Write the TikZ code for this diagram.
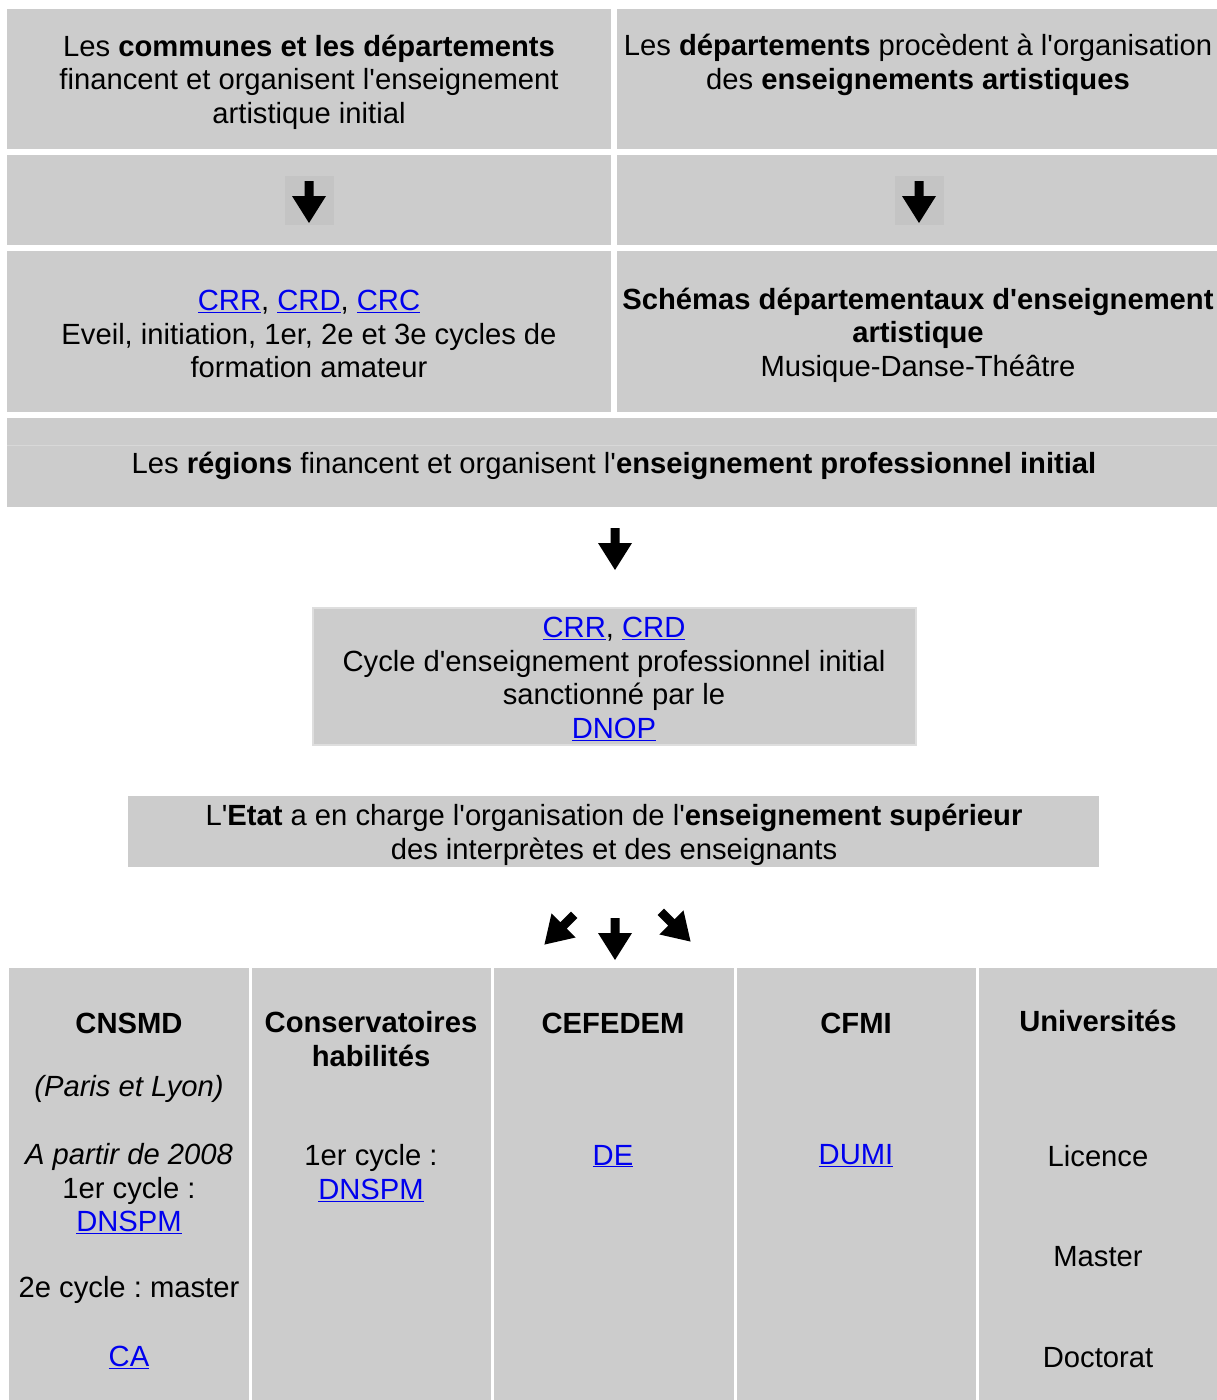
\documentclass[tikz,border=0pt]{standalone}
\usepackage{fontspec}
\setmainfont[Ligatures=TeXOff]{Liberation Sans}
\frenchspacing
\definecolor{cellgray}{HTML}{CCCCCC}
\definecolor{iconbox}{HTML}{C4C4C4}
\definecolor{boxedge}{HTML}{DEDEDE}
\definecolor{faintline}{HTML}{D8D8D8}
\definecolor{linkblue}{HTML}{0000EE}
\newcommand{\lnk}[1]{\textcolor{linkblue}{\underline{#1}}}
\tikzset{
  txt/.style={align=center, inner sep=0pt, font=\fontsize{29.2}{33.5}\selectfont},
  cell/.style={fill=cellgray},
  dnarrow/.pic={\fill[black] (-4.5,-20)--(4.5,-20)--(4.5,-5)--(17,-5)--(0,22)--(-17,-5)--(-4.5,-5)--cycle;}
}
\begin{document}
\begin{tikzpicture}[x=1pt,y=-1pt]
\useasboundingbox (0,0) rectangle (1217,1400);
\fill[white] (0,0) rectangle (1217,1400);
% top table
\fill[cell] (7,9) rectangle (611,149);
\fill[cell] (617,9) rectangle (1217,149);
\fill[cell] (7,155) rectangle (611,245);
\fill[cell] (617,155) rectangle (1217,245);
\fill[cell] (7,251) rectangle (611,412);
\fill[cell] (617,251) rectangle (1217,412);
% icon boxes with arrows
\fill[iconbox] (285,176) rectangle (334,225);
\fill[iconbox] (895,176) rectangle (944,225);
\pic at (309,201) {dnarrow};
\pic at (919,201) {dnarrow};
% region band
\fill[cell] (7,418) rectangle (1217,507);
\draw[faintline, line width=1pt] (7,445) -- (1217,445);
% CRR box
\fill[cell, draw=boxedge, line width=2pt] (313,608) rectangle (916,745);
% Etat box
\fill[cell] (128,796) rectangle (1099,867);
% bottom table
\fill[cell] (9,968) rectangle (249,1400);
\fill[cell] (252,968) rectangle (491,1400);
\fill[cell] (494,968) rectangle (734,1400);
\fill[cell] (737,968) rectangle (976,1400);
\fill[cell] (979,968) rectangle (1217,1400);
% arrows
\pic at (615,548) {dnarrow};
\pic at (615,938) {dnarrow};
\pic[rotate=-45] at (560,929) {dnarrow};
\pic[rotate=45] at (675,926) {dnarrow};
% texts
\node[txt] (t1) at (309,82) {Les \textbf{communes et les départements}\\financent et organisent l'enseignement\\artistique initial};
\node[txt] (t2) at (918,65) {Les \textbf{départements} procèdent à l'organisation\\des \textbf{enseignements artistiques}};
\node[txt] (t3) at (309,334) {\lnk{CRR}, \lnk{CRD}, \lnk{CRC}\\Eveil, initiation, 1er, 2e et 3e cycles de\\formation amateur};
\node[txt] (t4) at (918,335) {\textbf{Schémas départementaux d'enseignement}\\\textbf{artistique}\\Musique-Danse-Théâtre};
\node[txt] (t5) at (614,466) {Les \textbf{régions} financent et organisent l'\textbf{enseignement professionnel initial}};
\node[txt] (t6) at (614,679) {\lnk{CRR}, \lnk{CRD}\\Cycle d'enseignement professionnel initial\\sanctionné par le\\\lnk{DNOP}};
\node[txt] (t7) at (614,835) {L'\textbf{Etat} a en charge l'organisation de l'\textbf{enseignement supérieur}\\des interprètes et des enseignants};
% bottom column texts
\node[txt] (c1a) at (129,1023) {\textbf{CNSMD}};
\node[txt] (c1b) at (129,1089) {\textit{(Paris et Lyon)}};
\node[txt] (c1c) at (129,1189) {\textit{A partir de 2008}\\1er cycle :\\\lnk{DNSPM}};
\node[txt] (c1d) at (129,1290) {2e cycle : master};
\node[txt] (c1e) at (129,1357) {\lnk{CA}};
\node[txt] (c2a) at (371,1039) {\textbf{Conservatoires}\\\textbf{habilités}};
\node[txt] (c2b) at (371,1173) {1er cycle :\\\lnk{DNSPM}};
\node[txt] (c3a) at (613,1023) {\textbf{CEFEDEM}};
\node[txt] (c3b) at (613,1156) {\lnk{DE}};
\node[txt] (c4a) at (856,1023) {\textbf{CFMI}};
\node[txt] (c4b) at (856,1156) {\lnk{DUMI}};
\node[txt] (c5a) at (1098,1021) {\textbf{Universités}};
\node[txt] (c5b) at (1098,1156) {Licence};
\node[txt] (c5c) at (1098,1257) {Master};
\node[txt] (c5d) at (1098,1358) {Doctorat};
\end{tikzpicture}
\end{document}
